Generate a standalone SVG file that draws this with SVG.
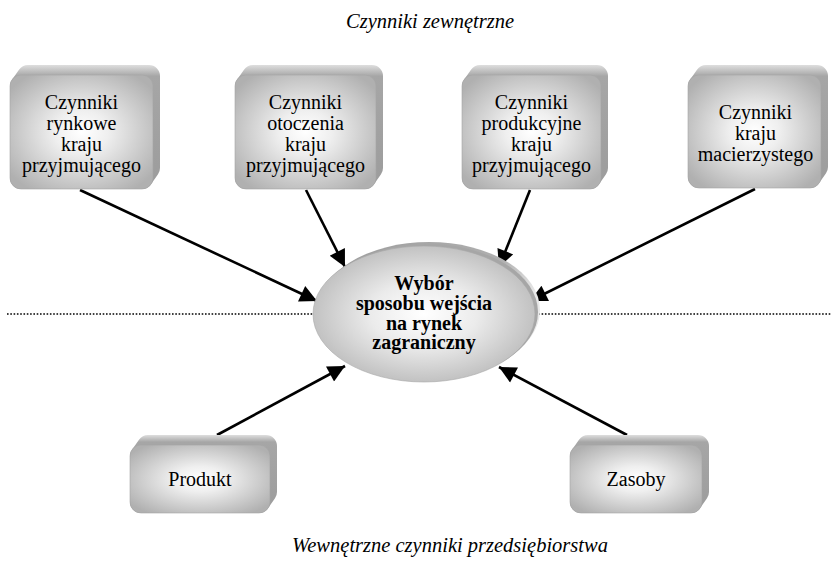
<svg xmlns="http://www.w3.org/2000/svg" width="831" height="564" viewBox="0 0 831 564">
  <style>
    .lbl { font-family: "Liberation Serif", "Times New Roman", serif; font-size: 20px; fill: #000; text-anchor: middle; }
    .ttl { font-family: "Liberation Serif", "Times New Roman", serif; font-size: 20.5px; font-style: italic; fill: #000; text-anchor: middle; }
    .core { font-family: "Liberation Serif", "Times New Roman", serif; font-size: 20px; font-weight: bold; fill: #000; text-anchor: middle; }
    .side { fill: url(#sideGrad); }
    .face { fill: url(#faceGrad); stroke: #a4a4a4; stroke-width: 0.6; }
    .conn { stroke: #000; stroke-width: 2.6; fill: none; marker-end: url(#arrow); }
    .divider { stroke: #000; stroke-width: 1.6; stroke-dasharray: 1.6 1.7; fill: none; }
  </style>
  <defs>
    <radialGradient id="faceGrad" cx="0.5" cy="0.5" r="0.62">
      <stop offset="0" stop-color="#ffffff"/>
      <stop offset="0.3" stop-color="#efefef"/>
      <stop offset="1" stop-color="#b0b0b0"/>
    </radialGradient>
    <linearGradient id="sideGrad" x1="0" y1="0" x2="0" y2="1">
      <stop offset="0" stop-color="#dedede"/>
      <stop offset="0.09" stop-color="#a6a6a6"/>
      <stop offset="1" stop-color="#9c9c9c"/>
    </linearGradient>
    <radialGradient id="ovalGrad" cx="0.5" cy="0.5" r="0.6">
      <stop offset="0" stop-color="#ffffff"/>
      <stop offset="0.4" stop-color="#ebebeb"/>
      <stop offset="1" stop-color="#b2b2b2"/>
    </radialGradient>
    <linearGradient id="ovalRim" x1="0" y1="0" x2="1" y2="0.3">
      <stop offset="0" stop-color="#9a9a9a"/>
      <stop offset="0.8" stop-color="#b0b0b0"/>
      <stop offset="1" stop-color="#e8e8e8"/>
    </linearGradient>
    <marker id="arrow" viewBox="0 0 10 10" refX="10" refY="5" markerUnits="userSpaceOnUse" markerWidth="22" markerHeight="17" orient="auto">
      <path d="M0,0 L10,5 L0,10 z" fill="#000"/>
    </marker>
  </defs>

  <!-- divider between external and internal factors -->
  <line class="divider" x1="7" y1="314" x2="831" y2="314"/>

  <text class="ttl" x="430" y="28">Czynniki zewnętrzne</text>
  <text class="ttl" x="450" y="552">Wewnętrzne czynniki przedsiębiorstwa</text>

  <g id="connectors">
    <line class="conn" x1="80" y1="190" x2="317" y2="301"/>
    <line class="conn" x1="306" y1="190" x2="345" y2="267"/>
    <line class="conn" x1="530" y1="190" x2="499" y2="267"/>
    <line class="conn" x1="755" y1="189" x2="530" y2="301"/>
    <line class="conn" x1="217" y1="435" x2="345" y2="366"/>
    <line class="conn" x1="627" y1="435" x2="499" y2="367"/>
  </g>

  <!-- each block: extruded hull (back plate shifted +7,-10) then the front face -->
  <g id="node-rynkowe">
    <path class="side" d="M28,65 H149 A11 11 0 0 1 160,76 V168 A11 11 0 0 1 158.01,174.3 L151.01,184.3 A11 11 0 0 1 142,189 H21 A11 11 0 0 1 10,178 V86 A11 11 0 0 1 11.99,79.7 L18.99,69.7 A11 11 0 0 1 28,65 Z"/>
    <rect class="face" x="10" y="75" width="143" height="114" rx="11"/>
    <text class="lbl" x="81.5" y="109">Czynniki</text>
    <text class="lbl" x="81.5" y="130">rynkowe</text>
    <text class="lbl" x="81.5" y="151">kraju</text>
    <text class="lbl" x="81.5" y="172">przyjmującego</text>
  </g>

  <g id="node-otoczenia">
    <path class="side" d="M253,65 H372 A11 11 0 0 1 383,76 V168 A11 11 0 0 1 381.01,174.3 L374.01,184.3 A11 11 0 0 1 365,189 H246 A11 11 0 0 1 235,178 V86 A11 11 0 0 1 236.99,79.7 L243.99,69.7 A11 11 0 0 1 253,65 Z"/>
    <rect class="face" x="235" y="75" width="141" height="114" rx="11"/>
    <text class="lbl" x="305.5" y="109">Czynniki</text>
    <text class="lbl" x="305.5" y="130">otoczenia</text>
    <text class="lbl" x="305.5" y="151">kraju</text>
    <text class="lbl" x="305.5" y="172">przyjmującego</text>
  </g>

  <g id="node-produkcyjne">
    <path class="side" d="M480,65 H597 A11 11 0 0 1 608,76 V168 A11 11 0 0 1 606.01,174.3 L599.01,184.3 A11 11 0 0 1 590,189 H473 A11 11 0 0 1 462,178 V86 A11 11 0 0 1 463.99,79.7 L470.99,69.7 A11 11 0 0 1 480,65 Z"/>
    <rect class="face" x="462" y="75" width="139" height="114" rx="11"/>
    <text class="lbl" x="531.5" y="109">Czynniki</text>
    <text class="lbl" x="531.5" y="130">produkcyjne</text>
    <text class="lbl" x="531.5" y="151">kraju</text>
    <text class="lbl" x="531.5" y="172">przyjmującego</text>
  </g>

  <g id="node-macierzysty">
    <path class="side" d="M706,65 H817 A11 11 0 0 1 828,76 V167 A11 11 0 0 1 826.01,173.3 L819.01,183.3 A11 11 0 0 1 810,188 H699 A11 11 0 0 1 688,177 V86 A11 11 0 0 1 689.99,79.7 L696.99,69.7 A11 11 0 0 1 706,65 Z"/>
    <rect class="face" x="688" y="75" width="133" height="113" rx="11"/>
    <text class="lbl" x="755.5" y="119">Czynniki</text>
    <text class="lbl" x="755.5" y="140">kraju</text>
    <text class="lbl" x="755.5" y="161">macierzystego</text>
  </g>

  <g id="node-wybor">
    <ellipse cx="429" cy="310" rx="111" ry="68" fill="url(#ovalRim)"/>
    <ellipse cx="427" cy="312" rx="111" ry="68" fill="#a6a6a6"/>
    <ellipse cx="424" cy="314" rx="111" ry="68" fill="url(#ovalGrad)" stroke="#a8a8a8" stroke-width="0.6"/>
    <text class="core" x="424" y="290">Wybór</text>
    <text class="core" x="424" y="310">sposobu wejścia</text>
    <text class="core" x="424" y="330">na rynek</text>
    <text class="core" x="424" y="349">zagraniczny</text>
  </g>

  <g id="node-produkt">
    <path class="side" d="M148,435 H266 A11 11 0 0 1 277,446 V492 A11 11 0 0 1 275.01,498.3 L268.01,508.3 A11 11 0 0 1 259,513 H141 A11 11 0 0 1 130,502 V456 A11 11 0 0 1 131.99,449.7 L138.99,439.7 A11 11 0 0 1 148,435 Z"/>
    <rect class="face" x="130" y="445" width="140" height="68" rx="11"/>
    <text class="lbl" x="200" y="486">Produkt</text>
  </g>

  <g id="node-zasoby">
    <path class="side" d="M588,435 H698 A11 11 0 0 1 709,446 V492 A11 11 0 0 1 707.01,498.3 L700.01,508.3 A11 11 0 0 1 691,513 H581 A11 11 0 0 1 570,502 V456 A11 11 0 0 1 571.99,449.7 L578.99,439.7 A11 11 0 0 1 588,435 Z"/>
    <rect class="face" x="570" y="445" width="132" height="68" rx="11"/>
    <text class="lbl" x="636" y="486">Zasoby</text>
  </g>
</svg>
